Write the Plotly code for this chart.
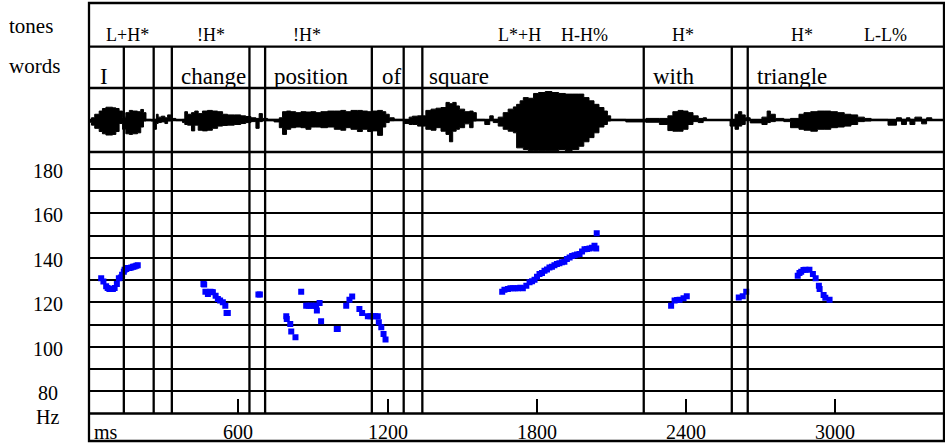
import plotly.graph_objects as go

# ---------------- data ----------------
x_max_ms = 3437
tick_ms = [600, 1200, 1800, 2400, 3000]
tick_text = ["600", "1200", "1800", "2400", "3000"]

boundaries_ms = [140, 260, 333, 645, 708, 1137, 1265, 1340, 2230, 2584, 2648]

tones_text = ["L+H*", "!H*", "!H*", "L*+H", "H-H%", "H*", "H*", "L-L%"]
tones_ms = [155, 492, 878, 1730, 1992, 2386, 2868, 3202]

words_text = ["I", "change", "position", "of", "square", "with", "triangle"]
words_ms = [38, 360, 734, 1168, 1357, 2261, 2679]

hz_grid = [80, 90, 100, 110, 120, 130, 140, 150, 160, 170, 180]
hz_labels = [80, 100, 120, 140, 160, 180]
hz_range = [70, 187.6]

pitch_ms = [
    49, 58, 69, 75, 82, 89, 96, 103, 112, 120, 128, 133, 140, 143, 150, 156, 163, 170, 177, 183, 190, 196,
    460, 463, 468, 478, 488, 493, 498, 509, 518, 527, 538, 548, 553, 558,
    681, 687,
    793, 795, 809, 813, 830, 853, 873, 883, 893, 903, 913, 916, 927, 933, 996, 1000,
    1034, 1047, 1058, 1087, 1098, 1121, 1131, 1141, 1151, 1161, 1165, 1175, 1184, 1192,
    1661, 1670, 1684, 1694, 1704, 1714, 1724, 1734, 1744, 1758, 1771, 1781, 1791, 1801, 1811, 1821, 1831,
    1841, 1851, 1861, 1871, 1881, 1891, 1901, 1911, 1921, 1932, 1942, 1952, 1962, 1972, 1982, 1992, 2002,
    2012, 2022, 2032, 2039, 2041,
    2340, 2354, 2364, 2374, 2390, 2403,
    2612, 2628, 2642,
    2849, 2856, 2863, 2872, 2880, 2896, 2910, 2921, 2934, 2937, 2953, 2960, 2977,
]
pitch_hz = [
    130.8, 129.4, 127.2, 126.4, 126.0, 126.0, 126.0, 126.4, 128.2, 130.8, 131.2, 132.4, 133.8, 134.7, 135.0, 135.4, 135.4, 135.7, 136.0, 136.1, 136.5, 136.7,
    128.2, 128.0, 124.8, 123.7, 124.8, 124.6, 124.5, 123.0, 121.5, 120.8, 120.0, 118.5, 115.2, 115.2,
    123.5, 123.5,
    113.7, 112.5, 110.3, 106.9, 104.3, 124.8, 118.5, 118.5, 118.5, 118.5, 118.5, 116.3, 119.7, 111.5, 108.0, 108.0,
    118.5, 121.2, 122.6, 117.0, 115.2, 113.7, 113.7, 113.7, 113.7, 113.7, 111.0, 108.8, 105.8, 103.3,
    124.8, 125.6, 126.0, 126.3, 126.3, 126.3, 126.3, 126.5, 126.3, 127.5, 129.0, 129.5, 130.2, 131.5, 132.7, 133.2, 134.2,
    134.8, 135.7, 136.0, 136.7, 137.2, 137.6, 138.0, 138.3, 139.5, 140.2, 140.8, 141.2, 141.5, 141.7, 142.8, 143.9, 144.0,
    144.2, 144.5, 145.4, 144.2, 151.1,
    118.5, 120.8, 121.0, 121.2, 121.8, 122.7,
    122.2, 122.7, 124.8,
    132.0, 133.2, 133.8, 134.5, 134.7, 134.7, 132.7, 130.8, 127.5, 126.0, 123.3, 122.0, 121.2,
]

# waveform envelope (% of full scale, upper and lower excursions)
wave_ms = [
    1, 10, 23, 41, 54, 68, 81, 95, 108, 121, 135, 148, 162, 175, 195, 208, 219, 229, 249, 262,
    271, 278, 291, 305, 316, 329, 349, 376, 385, 396, 412, 425, 439, 456, 476, 496, 517, 537, 557, 584,
    610, 630, 651, 671, 684, 697, 718, 744, 765, 778, 794, 811, 831, 852, 872, 892, 912, 932, 959, 986,
    1012, 1032, 1053, 1079, 1099, 1120, 1140, 1160, 1180, 1193, 1207, 1227, 1267, 1287, 1300, 1321,
    1354, 1375, 1395, 1415, 1435, 1449, 1462, 1476, 1489, 1510, 1530, 1544, 1557, 1591, 1611, 1625,
    1645, 1665, 1685, 1706, 1719, 1733, 1746, 1766, 1787, 1807, 1834, 1861, 1888, 1915, 1942, 1969,
    1989, 2010, 2030, 2050, 2070, 2084, 2097, 2158, 2239, 2293, 2327, 2347, 2368, 2388, 2408, 2428,
    2449, 2469, 2482, 2577, 2597, 2611, 2624, 2638, 2658, 2705, 2726, 2739, 2759, 2793, 2820, 2854,
    2874, 2901, 2928, 2955, 2982, 3009, 3036, 3063, 3090, 3117, 3144, 3212, 3246, 3266, 3286, 3300,
    3320, 3347, 3367, 3388, 3428,
]
wave_up = [
    0, 7, 18, 28, 36, 40, 40, 38, 36, 28, 9, 23, 30, 28, 26, 33, 23, 2, 1, 2,
    18, 9, 12, 7, 16, 5, 1, 2, 26, 18, 23, 28, 20, 28, 30, 28, 26, 18, 16, 16,
    13, 11, 7, 5, 20, 5, 2, 2, 7, 26, 28, 26, 23, 26, 25, 26, 23, 26, 28, 28,
    30, 26, 30, 30, 28, 26, 28, 30, 26, 18, 7, 2, 1, 9, 12, 13,
    30, 34, 37, 39, 55, 51, 55, 44, 34, 26, 28, 23, 2, 1, 13, 2,
    9, 23, 34, 41, 49, 60, 70, 68, 83, 86, 89, 86, 83, 81, 81, 81,
    70, 60, 49, 39, 28, 13, 2, 1, 5, 5, 13, 26, 30, 28, 23, 13,
    5, 7, 1, 1, 18, 26, 16, 7, 1, 9, 28, 18, 5, 2, 5, 18,
    23, 26, 28, 28, 26, 23, 18, 16, 9, 5, 2, 1, 7, 2, 7, 2,
    9, 2, 7, 1, 1,
]
wave_dn = [
    0, 7, 16, 26, 36, 43, 47, 47, 45, 36, 11, 29, 43, 45, 43, 40, 22, 3, 2, 3,
    29, 11, 8, 6, 11, 3, 1, 2, 8, 14, 16, 34, 16, 32, 34, 32, 26, 19, 17, 16,
    14, 11, 8, 5, 26, 5, 2, 2, 6, 24, 45, 29, 24, 22, 24, 29, 22, 22, 24, 22,
    29, 32, 24, 29, 36, 29, 36, 34, 48, 22, 8, 2, 1, 11, 14, 14,
    19, 29, 32, 24, 35, 45, 68, 35, 29, 24, 12, 24, 3, 2, 14, 2,
    8, 19, 29, 35, 40, 87, 87, 92, 96, 96, 96, 96, 96, 92, 96, 92,
    82, 68, 55, 40, 22, 14, 3, 1, 6, 7, 14, 33, 35, 35, 29, 14,
    5, 8, 1, 1, 19, 29, 19, 14, 1, 9, 14, 8, 5, 2, 5, 24,
    29, 32, 35, 29, 29, 24, 22, 19, 14, 5, 3, 1, 16, 3, 14, 3,
    14, 3, 12, 1, 1,
]

# ---------------- layout geometry (paper fractions) ----------------
y_ms_top = 0.0628
y_pitch_top = 0.6598
y_wave_top = 0.8059
y_words_top = 0.9002

SERIF = "Liberation Serif"
BLACK = "#000000"
LW = 2.3

fig = go.Figure()

# waveform (filled envelope, stepped edges)
fig.add_trace(go.Scatter(
    x=wave_ms + wave_ms[::-1],
    y=wave_up + [-v for v in wave_dn[::-1]],
    fill="toself", fillcolor=BLACK, mode="lines",
    line=dict(color=BLACK, width=1, shape="hv"),
    yaxis="y2", xaxis="x", hoverinfo="skip", showlegend=False,
))

# pitch points
fig.add_trace(go.Scatter(
    x=pitch_ms, y=pitch_hz, mode="markers",
    marker=dict(symbol="square", size=6, color="#0000FF", line=dict(width=0)),
    yaxis="y", xaxis="x", showlegend=False,
))

shapes = []
shapes.append(dict(type="rect", xref="paper", yref="paper", x0=0, x1=1, y0=0, y1=1,
                   line=dict(color=BLACK, width=LW)))
for yb in [y_ms_top, y_pitch_top, y_wave_top, y_words_top]:
    shapes.append(dict(type="line", xref="paper", yref="paper", x0=0, x1=1, y0=yb, y1=yb,
                       line=dict(color=BLACK, width=LW)))
shapes.append(dict(type="line", xref="paper", yref="y2", x0=0, x1=1, y0=0, y1=0,
                   line=dict(color=BLACK, width=LW)))
for b in boundaries_ms:
    shapes.append(dict(type="line", xref="x", yref="paper", x0=b, x1=b,
                       y0=y_ms_top, y1=y_words_top, line=dict(color=BLACK, width=LW)))

annotations = []
for t, s in zip(tones_ms, tones_text):
    annotations.append(dict(x=t, y=0.9269, xref="x", yref="paper", text=s, showarrow=False,
                            xanchor="center", yanchor="middle",
                            font=dict(family=SERIF, size=18, color=BLACK)))
for t, s in zip(words_ms, words_text):
    annotations.append(dict(x=t, y=0.8320, xref="x", yref="paper", text=s, showarrow=False,
                            xanchor="left", yanchor="middle",
                            font=dict(family=SERIF, size=23, color=BLACK)))
for t, s in zip(tick_ms, tick_text):
    annotations.append(dict(x=t, y=0.0212, xref="x", yref="paper", text=s, showarrow=False,
                            xanchor="center", yanchor="middle",
                            font=dict(family=SERIF, size=20, color=BLACK)))
annotations.append(dict(x=0, y=0.0212, xref="paper", yref="paper", text="ms", showarrow=False,
                        xanchor="left", yanchor="middle", xshift=3,
                        font=dict(family=SERIF, size=20, color=BLACK)))
for h in hz_labels:
    annotations.append(dict(x=0, y=h, xref="paper", yref="y", text=str(h), showarrow=False,
                            xanchor="center", yanchor="middle", xshift=-41, yshift=-2,
                            font=dict(family=SERIF, size=20, color=BLACK)))
annotations.append(dict(x=0, y=hz_range[0], xref="paper", yref="y", text="Hz", showarrow=False,
                        xanchor="center", yanchor="middle", xshift=-42, yshift=-4,
                        font=dict(family=SERIF, size=20, color=BLACK)))
annotations.append(dict(x=0, y=0.9466, xref="paper", yref="paper", text="tones", showarrow=False,
                        xanchor="left", yanchor="middle", xshift=-82,
                        font=dict(family=SERIF, size=21, color=BLACK)))
annotations.append(dict(x=0, y=0.8553, xref="paper", yref="paper", text="words", showarrow=False,
                        xanchor="left", yanchor="middle", xshift=-82,
                        font=dict(family=SERIF, size=21, color=BLACK)))

fig.update_layout(
    width=945, height=443,
    margin=dict(l=89, r=1, t=3, b=2),
    paper_bgcolor="white", plot_bgcolor="white",
    font=dict(family=SERIF, color=BLACK),
    showlegend=False,
    xaxis=dict(range=[0, x_max_ms], anchor="y", showgrid=False, zeroline=False,
               showline=False, tickmode="array", tickvals=tick_ms, ticks="inside",
               ticklen=14, tickwidth=2, tickcolor=BLACK, showticklabels=False),
    yaxis=dict(domain=[y_ms_top, y_pitch_top], range=hz_range, anchor="x",
               tickmode="array", tickvals=hz_grid, showgrid=True, gridcolor=BLACK,
               gridwidth=LW, zeroline=False, showticklabels=False, ticks="", showline=False),
    yaxis2=dict(domain=[y_pitch_top, y_wave_top], range=[-100, 100], anchor="x",
                showgrid=False, zeroline=False, showticklabels=False, ticks="", showline=False),
    shapes=shapes,
    annotations=annotations,
)

fig.write_html("out.html", config={"displayModeBar": False},
               post_script="document.body.style.margin='0';document.body.style.overflow='hidden';")
